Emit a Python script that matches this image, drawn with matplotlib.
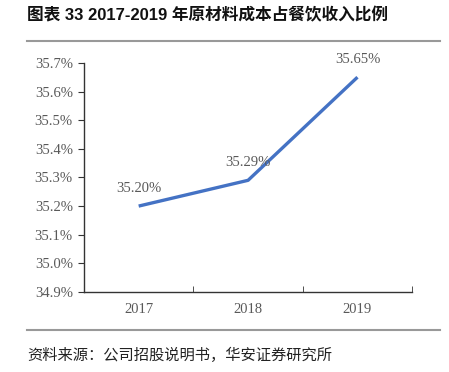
import matplotlib.pyplot as plt
from matplotlib.lines import Line2D
from matplotlib.ticker import FixedLocator, FuncFormatter

years = ["2017", "2018", "2019"]
ratio = [35.20, 35.29, 35.65]
y_ticks = [34.9, 35.0, 35.1, 35.2, 35.3, 35.4, 35.5, 35.6, 35.7]

title = "图表 33 2017-2019 年原材料成本占餐饮收入比例"
source = "资料来源：公司招股说明书，华安证券研究所"

cjk = ["Noto Sans CJK SC", "DejaVu Sans"]
serif = "Liberation Serif"
grey = "#595959"

fig = plt.figure(figsize=(4.49, 3.72), dpi=100)
ax = fig.add_axes([0.187, 0.215, 0.731, 0.616])

x = list(range(len(years)))
ax.plot(x, ratio, color="#4472C4", linewidth=2.4, solid_capstyle="butt")
for xi, v in zip(x, ratio):
    ax.annotate(f"{v:.2f}%", (xi, v), xytext=(0, 8), textcoords="offset points",
                ha="center", va="bottom", fontsize=10.5, family=serif, color=grey)

ax.set_xlim(-0.5, 2.5)
ax.set_ylim(34.9, 35.7)
ax.set_yticks(y_ticks)
ax.yaxis.set_major_formatter(FuncFormatter(lambda v, p: f"{v:.1f}%"))
ax.set_xticks(x)
ax.set_xticklabels(years)
ax.xaxis.set_minor_locator(FixedLocator([0.5, 1.5, 2.5]))
ax.tick_params(axis="x", which="major", length=0, pad=8)
ax.tick_params(axis="x", which="minor", direction="in", length=4, color="#333333")
ax.tick_params(axis="y", direction="out", length=4, color="#333333", pad=4)
for lab in ax.get_xticklabels() + ax.get_yticklabels():
    lab.set_fontfamily(serif)
    lab.set_fontsize(10.5)
    lab.set_color(grey)

for s in ["top", "right"]:
    ax.spines[s].set_visible(False)
for s in ["left", "bottom"]:
    ax.spines[s].set_color("#333333")
    ax.spines[s].set_linewidth(1.0)

fig.text(0.06, 0.96, title, family=["Liberation Sans", "Noto Sans CJK SC"], fontsize=12,
         fontweight="bold", ha="left", va="center", color="#111111")
fig.add_artist(Line2D([0.06, 0.98], [0.89, 0.89], color="#999999", linewidth=1.5))
fig.add_artist(Line2D([0.06, 0.98], [0.113, 0.113], color="#999999", linewidth=1.5))
fig.text(0.06, 0.045, source, family=cjk, fontsize=11, ha="left", va="center",
         color="#222222")

fig.savefig("out.png", dpi=100)
